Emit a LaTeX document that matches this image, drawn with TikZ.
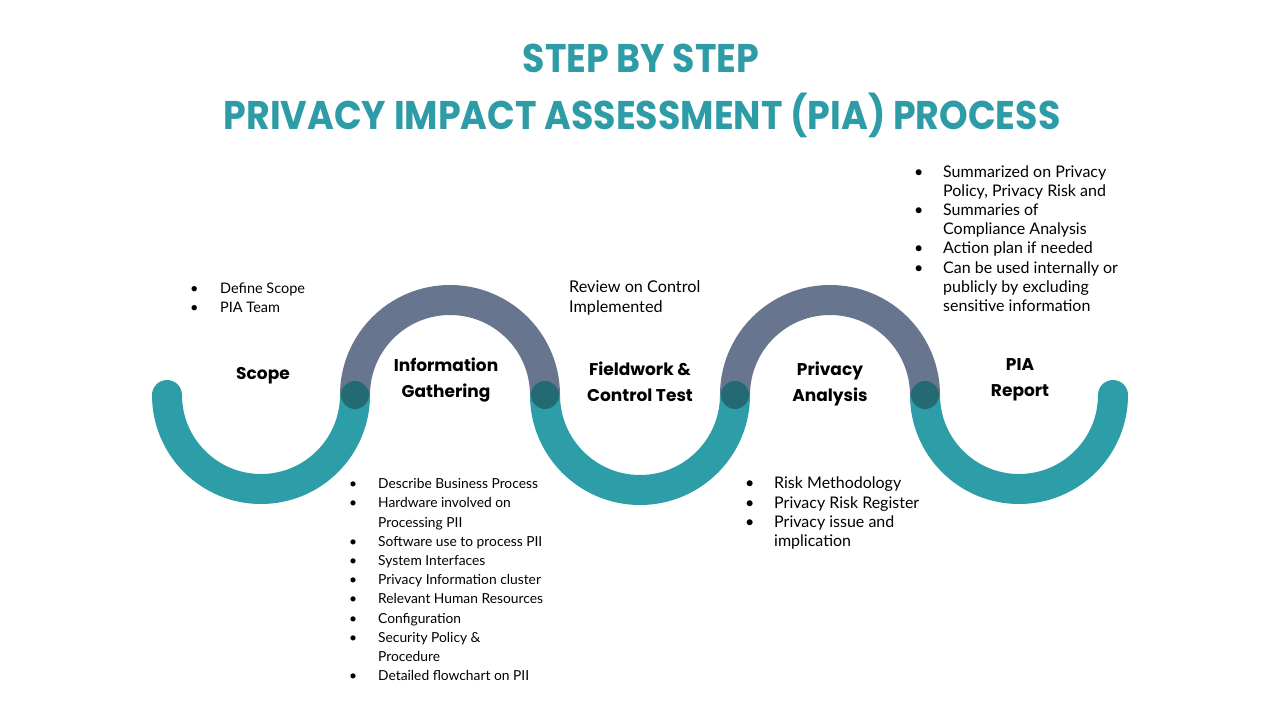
\documentclass[tikz,border=0pt]{standalone}
\usepackage{fontspec}
\setmainfont{Lato}
\newfontfamily\headfont{Poppins}
\definecolor{piateal}{HTML}{2D9DA8}
\definecolor{piagray}{HTML}{68758F}
\definecolor{piadark}{HTML}{236A73}
\definecolor{piatitle}{HTML}{2E9CA6}
\newcommand{\blt}{\textbullet}
\tikzset{
  teal arc/.style = {piateal, line width = 30pt, line cap = round},
  gray arc/.style = {piagray, line width = 30pt},
  joint/.style = {circle, fill = piadark, minimum size = 28pt, inner sep = 0pt},
  step label/.style = {align = center, font = \headfont\bfseries\fontsize{17}{25.5}\selectfont},
  small list/.style = {anchor = north west, inner sep = 0pt, font = \fontsize{13.8}{19.2}\selectfont},
  big list/.style = {anchor = north west, inner sep = 0pt, font = \fontsize{16}{19.3}\selectfont},
  heading/.style = {piatitle, xscale = 0.91, font = \headfont\bfseries\fontsize{40}{48}\selectfont},
}
\begin{document}
\begin{tikzpicture}[x = 1pt, y = 1pt]
  \useasboundingbox[fill = white] (0, 0) rectangle (1280, -720);
  % title
  \node[heading] (title1) at (641, -58) {STEP BY STEP};
  \node[heading] (title2) at (642, -115) {PRIVACY IMPACT ASSESSMENT (PIA) PROCESS};
  % the wave
  \draw[teal arc] (167, -395) arc[start angle = 180, end angle = 360, radius = 94];
  \draw[teal arc] (545, -395) arc[start angle = 180, end angle = 360, radius = 95];
  \draw[teal arc] (925, -395) arc[start angle = 180, end angle = 360, radius = 94];
  \draw[gray arc] (355, -395) arc[start angle = 180, end angle = 0, radius = 95];
  \draw[gray arc] (735, -395) arc[start angle = 180, end angle = 0, radius = 95];
  \node[joint] (j1) at (355, -395) {};
  \node[joint] (j2) at (545, -395) {};
  \node[joint] (j3) at (735, -395) {};
  \node[joint] (j4) at (925, -395) {};
  % step names
  \node[step label] (scope) at (263, -376) {Scope};
  \node[step label] (info) at (446, -380) {Information\\Gathering};
  \node[step label] (field) at (640, -382) {Fieldwork \&\\Control Test};
  \node[step label] (analysis) at (830, -384) {Privacy\\Analysis};
  \node[step label] (report) at (1020, -380) {PIA\\Report};
  % notes
  \node[small list, font = \fontsize{14.5}{19}\selectfont] (scopelist) at (190, -280) {\begin{tabular}{@{}p{30pt}@{}l@{}}
    \blt & Define Scope\\
    \blt & PIA Team
  \end{tabular}};
  \node[small list] (infolist) at (349, -475) {\begin{tabular}{@{}p{29pt}@{}l@{}}
    \blt & Describe Business Process\\
    \blt & Hardware involved on\\
         & Processing PII\\
    \blt & Software use to process PII\\
    \blt & System Interfaces\\
    \blt & Privacy Information cluster\\
    \blt & Relevant Human Resources\\
    \blt & Configuration\\
    \blt & Security Policy \&\\
         & Procedure\\
    \blt & Detailed flowchart on PII
  \end{tabular}};
  \node[big list, font = \fontsize{16.2}{20}\selectfont] (fieldnote) at (569, -278) {\begin{tabular}{@{}l@{}}
    Review on Control\\
    Implemented
  \end{tabular}};
  \node[big list] (analysislist) at (745, -475) {\begin{tabular}{@{}p{29pt}@{}l@{}}
    \blt & Risk Methodology\\
    \blt & Privacy Risk Register\\
    \blt & Privacy issue and\\
         & implication
  \end{tabular}};
  \node[big list, font = \fontsize{16}{19.1}\selectfont] (reportlist) at (914, -164) {\begin{tabular}{@{}p{29pt}@{}l@{}}
    \blt & Summarized on Privacy\\
         & Policy, Privacy Risk and\\
    \blt & Summaries of\\
         & Compliance Analysis\\
    \blt & Action plan if needed\\
    \blt & Can be used internally or\\
         & publicly by excluding\\
         & sensitive information
  \end{tabular}};
\end{tikzpicture}
\end{document}
